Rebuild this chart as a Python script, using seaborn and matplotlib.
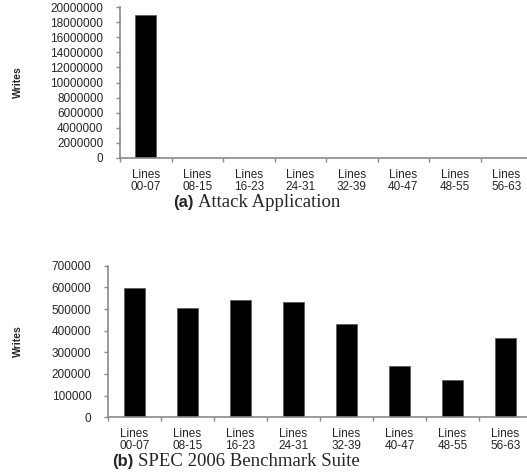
import matplotlib
matplotlib.use('Agg')
import matplotlib.pyplot as plt
import seaborn as sns
import pandas as pd

# %% Data
categories = ['Lines\n00-07', 'Lines\n08-15', 'Lines\n16-23', 'Lines\n24-31',
              'Lines\n32-39', 'Lines\n40-47', 'Lines\n48-55', 'Lines\n56-63']
attack_writes = [18900000, 0, 0, 0, 0, 0, 0, 0]
spec_writes = [596000, 505000, 542000, 534000, 431000, 236000, 171000, 365000]
attack_yticks = list(range(0, 20000001, 2000000))
spec_yticks = list(range(0, 700001, 100000))

sns.set_style('white')
plt.rcParams['font.family'] = ['Liberation Sans', 'DejaVu Sans']
grey = '#8a8a8a'

fig = plt.figure(figsize=(5.27, 4.75), dpi=100)
ax_a = fig.add_axes([120 / 527, 1 - 158 / 475, 412 / 527, 151 / 475])
ax_b = fig.add_axes([108 / 527, 1 - 417.3 / 475, 424 / 527, 151.6 / 475])


def draw(ax, values, yticks, width, label_x):
    df = pd.DataFrame({'cat': categories, 'writes': values})
    sns.barplot(data=df, x='cat', y='writes', ax=ax, color='black',
                width=width, edgecolor='#555555', linewidth=0.5, saturation=1)
    ax.set_xlim(-0.5, len(categories) - 0.5)
    ax.set_ylim(yticks[0], yticks[-1])
    ax.set_yticks(yticks)
    ax.set_yticklabels([str(v) for v in yticks])
    ax.set_xlabel('')
    ax.set_ylabel('Writes', fontsize=7.5, fontweight='bold')
    ax.yaxis.set_label_coords(label_x, 0.5)
    for side in ['top', 'right']:
        ax.spines[side].set_visible(False)
    for side in ['left', 'bottom']:
        ax.spines[side].set_color(grey)
        ax.spines[side].set_linewidth(1.2)
    ax.set_xticks([i - 0.5 for i in range(len(categories) + 1)], minor=True)
    ax.tick_params(axis='x', which='major', length=0, pad=8, labelsize=8.5)
    ax.tick_params(axis='x', which='minor', length=3, width=1, color=grey,
                   direction='out', bottom=True)
    ax.tick_params(axis='y', length=3, width=1, color=grey, direction='out',
                   left=True, pad=9, labelsize=8.5)
    for lab in ax.get_xticklabels():
        lab.set_linespacing(1.0)


draw(ax_a, attack_writes, attack_yticks, 0.41, -(120 - 23) / 412)
draw(ax_b, spec_writes, spec_yticks, 0.40, -(108 - 23) / 424)

# %% Captions: bold sans "(x)" followed by serif text
def caption(x_px, y_px, tag, text):
    t1 = fig.text(x_px / 527, 1 - y_px / 475, tag, fontsize=12,
                  fontweight='bold', va='baseline', ha='left')
    fig.canvas.draw()
    bb = t1.get_window_extent()
    fig.text((bb.x1 + 5) / 527, 1 - y_px / 475, text, fontsize=13.5,
             family='Liberation Serif', va='baseline', ha='left')


caption(173, 207, '(a)', 'Attack Application')
caption(112, 466, '(b)', 'SPEC 2006 Benchmark Suite')

fig.savefig('out.png', dpi=100)
